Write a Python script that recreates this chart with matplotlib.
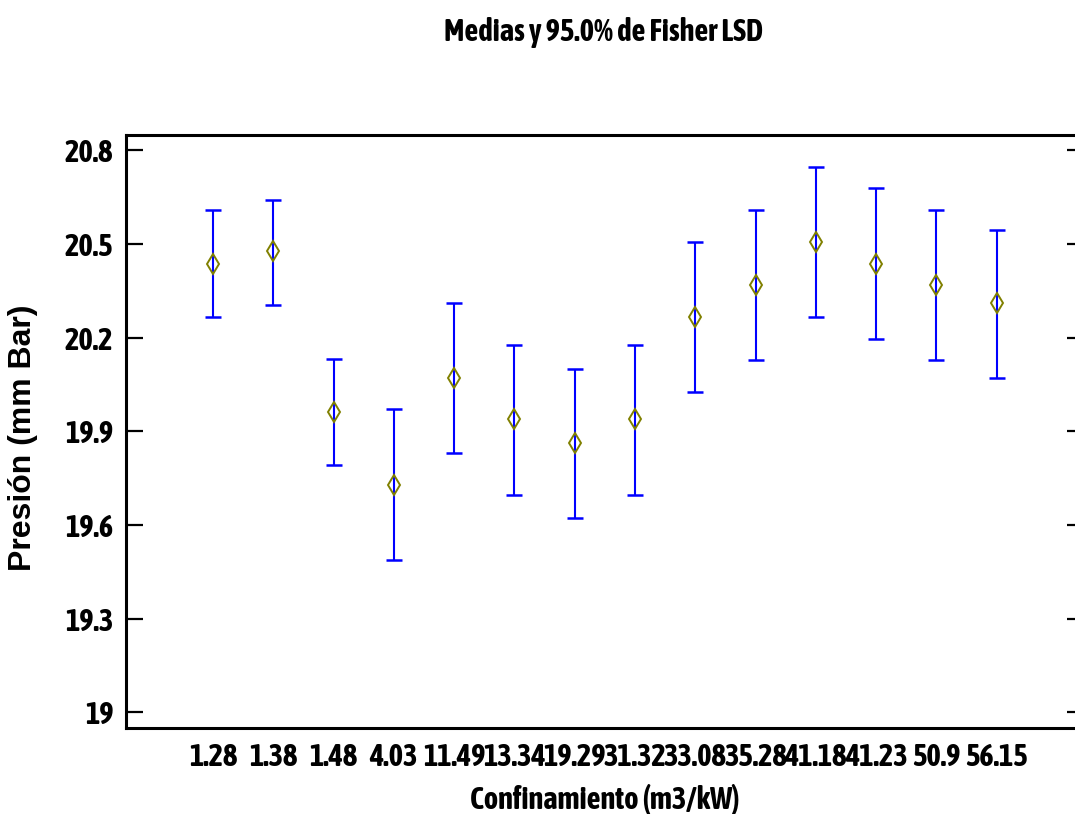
import matplotlib
matplotlib.use("Agg")
import matplotlib.pyplot as plt
from matplotlib import font_manager
import numpy as np

# group labels (confinement, m3/kW) and LSD intervals for pressure
groups = ["1.28", "1.38", "1.48", "4.03", "11.49", "13.34", "19.29",
          "31.32", "33.08", "35.28", "41.18", "41.23", "50.9", "56.15"]
means = [20.437, 20.477, 19.962, 19.728, 20.071, 19.938, 19.863,
         19.938, 20.266, 20.368, 20.507, 20.437, 20.368, 20.311]
lower = [20.266, 20.305, 19.792, 19.488, 19.830, 19.697, 19.621,
         19.697, 20.026, 20.128, 20.266, 20.197, 20.128, 20.071]
upper = [20.608, 20.640, 20.133, 19.970, 20.311, 20.178, 20.101,
         20.178, 20.507, 20.608, 20.748, 20.678, 20.608, 20.545]
yticks = [19, 19.3, 19.6, 19.9, 20.2, 20.5, 20.8]


def narrow_font():
    """Return (FontProperties, size) for a condensed bold sans, if one is installed."""
    entries = font_manager.fontManager.ttflist
    for e in entries:
        if any(k in e.name for k in ("Narrow", "Condensed")) and e.weight in (700, "bold"):
            return font_manager.FontProperties(fname=e.fname), 22
    for e in entries:
        if e.stretch in ("condensed", "semi-condensed", "extra-condensed") and \
                e.weight in (700, "bold") and "Sans" in e.name:
            return font_manager.FontProperties(fname=e.fname), 22
    return font_manager.FontProperties(family="Liberation Sans", weight="bold"), 15.5


def main() -> None:
    fp, size = narrow_font()

    def tfont(sz=size):
        f = fp.copy()
        f.set_size(sz)
        return f

    x = np.arange(len(groups))
    m = np.array(means)
    err = np.vstack([m - np.array(lower), np.array(upper) - m])

    fig = plt.figure(figsize=(10.75, 8.14), dpi=100)
    ax = fig.add_axes([125.7 / 1075, 1 - 728 / 814, (1084 - 125.7) / 1075, (728 - 134.7) / 814])

    ax.errorbar(x, m, yerr=err, fmt="none", ecolor="#0000FF", elinewidth=1.5,
                capsize=6, capthick=1.8)
    ax.plot(x, m, linestyle="none", marker="d", markersize=10.5,
            markerfacecolor="none", markeredgecolor="#808000", markeredgewidth=1.4)

    ax.set_xlim(-1.45, 14.45)
    ax.set_ylim(18.95, 20.85)
    ax.set_xticks(x)
    ax.set_xticklabels(groups, fontproperties=tfont())
    ax.set_yticks(yticks)
    ax.set_yticklabels([f"{v:g}" for v in yticks], fontproperties=tfont())
    ax.tick_params(axis="x", length=0, pad=10)
    ax.tick_params(axis="y", direction="in", length=12, width=1.6, pad=9,
                   right=True)
    for s in ax.spines.values():
        s.set_linewidth(2.2)

    ax.set_xlabel("Confinamiento (m3/kW)", fontproperties=tfont(), labelpad=8)
    ax.set_ylabel("Presión (mm Bar)", family="Liberation Sans",
                  fontweight="bold", fontsize=23)
    ax.yaxis.set_label_coords((38 - 125.7) / 958.3, 0.49)
    fig.text(604 / 1075, 1 - 33 / 814, "Medias y 95.0% de Fisher LSD",
             fontproperties=tfont(), ha="center", va="center")

    fig.savefig("out.png", dpi=100)
    plt.close(fig)


if __name__ == "__main__":
    main()
